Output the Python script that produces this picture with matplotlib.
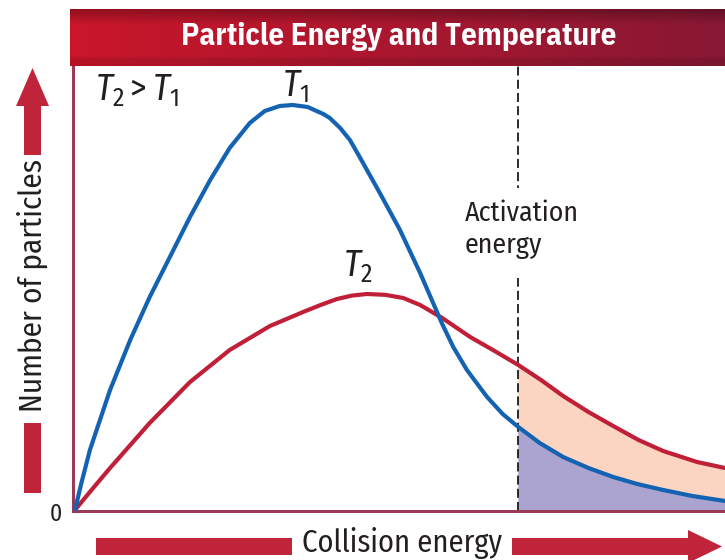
import numpy as np
import matplotlib
matplotlib.use("Agg")
import matplotlib.pyplot as plt
from matplotlib.patches import Rectangle, Polygon
from matplotlib import font_manager
from matplotlib.font_manager import FontProperties
from matplotlib.textpath import TextPath

# ---------------- data ----------------
title = "Particle Energy and Temperature"
x_label = "Collision energy"
y_label = "Number of particles"
activation_label = "Activation\nenergy"
activation_energy = 6.82

t1_energy = [0.0, 0.10, 0.23, 0.54, 0.85, 1.15, 1.46, 1.77, 2.08, 2.38, 2.69, 2.92,
             3.15, 3.35, 3.58, 3.82, 3.92, 4.08, 4.23, 4.38, 4.69, 5.00, 5.31, 5.65,
             5.82, 6.03, 6.34, 6.58, 6.82, 7.15, 7.51, 7.90, 8.28, 8.65, 9.05, 9.50, 10.0]
t1_count = [0.0, 6.8, 15.0, 30.0, 42.5, 53.25, 63.25, 73.25, 82.5, 90.5, 96.75, 99.75,
            101.0, 101.25, 100.75, 99.0, 98.0, 95.5, 92.5, 88.25, 79.25, 70.0, 59.25, 46.5,
            40.75, 35.0, 28.25, 24.0, 20.75, 16.75, 13.25, 10.5, 8.25, 6.5, 5.0, 3.5, 2.25]

t2_energy = [0.0, 0.27, 0.54, 1.15, 1.77, 2.38, 3.00, 3.51, 3.77, 4.03, 4.26, 4.49,
             4.77, 5.05, 5.31, 5.65, 6.08, 6.43, 6.82, 7.17, 7.51, 7.90, 8.28, 8.67,
             9.05, 9.57, 10.0]
t2_count = [0.0, 5.3, 10.5, 21.75, 32.0, 40.0, 46.0, 49.5, 51.2, 52.75, 53.6, 54.0,
            53.8, 53.0, 51.25, 48.0, 43.25, 40.0, 36.25, 32.5, 28.5, 24.5, 21.0, 17.5,
            14.75, 12.0, 10.5]

# ---------------- fonts: humanist condensed family closest to the reference proportions ----------------
ttf = font_manager.fontManager.ttflist
fams = {f.name for f in ttf}
humanist = ["PT Sans Narrow", "Fira Sans Condensed", "Asap Condensed", "Roboto Condensed",
            "Archivo Narrow", "IBM Plex Sans Condensed", "Open Sans Condensed"]
body_cands = [n for n in humanist if n in fams and any(f.name == n and f.weight in (400, "normal", "regular") for f in ttf)] or ["DejaVu Sans"]
bold_cands = [n for n in humanist if n in fams and any(f.name == n and f.weight in (700, "bold") for f in ttf)] or ["DejaVu Sans"]

def ratio(family, weight, s):
    fp = FontProperties(family=family, weight=weight)
    w = TextPath((0, 0), s, size=100, prop=fp).get_extents().width
    h = TextPath((0, 0), "H", size=100, prop=fp).get_extents().height
    return w / h

def choose(cands, weight, items):
    best, err = cands[0], 1e9
    for c in cands:
        try:
            e = sum(abs(np.log(ratio(c, weight, s) / r)) for s, r in items)
        except Exception:
            continue
        if e < err:
            best, err = c, e
    return best

body = choose(body_cands, "normal", [("Activation", 112 / 20), (x_label, 198 / 19), (y_label, 250 / 19)])
head = choose(bold_cands, "bold", [(title, 432 / 18)])
italic_f = "PT Sans" if (body == "PT Sans Narrow" and "PT Sans" in fams) else body

plt.rcParams["font.family"] = [body, "DejaVu Sans"]
plt.rcParams["mathtext.fontset"] = "custom"
plt.rcParams["mathtext.it"] = italic_f + ":italic"
plt.rcParams["mathtext.rm"] = body
plt.rcParams["mathtext.default"] = "it"
plt.rcParams["lines.scale_dashes"] = False

BLUE = "#1462b2"
RED = "#c01f38"
ARROW = "#c0243a"
SPINE = "#9b3a56"
LAV = "#aba4d0"
PEACH = "#fcd4c2"
TXT = "#231f20"

W, H = 725, 560
fig = plt.figure(figsize=(W / 100, H / 100), dpi=100)
fig.patch.set_facecolor("white")

# main axes
left_px, right_px, top_px, bot_px = 73, 725, 65, 511
ax = fig.add_axes([left_px / W, (H - bot_px) / H, (right_px - left_px) / W, (bot_px - top_px) / H], zorder=2)
ax.set_xlim(-0.03, 10.0)
ax.set_ylim(-0.25, 111.25)
ax.set_xticks([])
ax.set_yticks([])
for s in ["top", "right"]:
    ax.spines[s].set_visible(False)
for s in ["left", "bottom"]:
    ax.spines[s].set_color(SPINE)
    ax.spines[s].set_linewidth(2.2)

# overlay axes in pixel coordinates for decorations
deco = fig.add_axes([0, 0, 1, 1], zorder=5)
deco.set_xlim(0, W)
deco.set_ylim(H, 0)
deco.axis("off")
deco.patch.set_alpha(0)

# shaded tails beyond activation energy
t1x = np.array(t1_energy); t1y = np.array(t1_count)
t2x = np.array(t2_energy); t2y = np.array(t2_count)
m1 = t1x >= activation_energy
m2 = t2x >= activation_energy
ax.fill(np.r_[t2x[m2], t1x[m1][::-1]], np.r_[t2y[m2], t1y[m1][::-1]], color=PEACH, lw=0, zorder=1)
ax.fill(np.r_[t1x[m1], t1x[m1][-1], t1x[m1][0]], np.r_[t1y[m1], 0, 0], color=LAV, lw=0, zorder=1)

# activation line
ax.axvline(activation_energy, color="#1a1a1a", lw=1.3, dashes=(6.5, 3.0), zorder=2)

# curves
ax.plot(t2x, t2y, color=RED, lw=3.0, solid_capstyle="round", solid_joinstyle="round", zorder=3)
ax.plot(t1x, t1y, color=BLUE, lw=3.0, solid_capstyle="round", solid_joinstyle="round", zorder=4)

# banner with gradient
nx = 300
grad = np.zeros((20, nx, 3))
c_left = np.array([202, 22, 42]) / 255
c_right = np.array([136, 24, 52]) / 255
for i in range(nx):
    t = i / (nx - 1)
    grad[:, i, :] = c_left * (1 - t) + c_right * t
for j in range(20):
    f = 0.74 + 0.26 * min(1.0, j / 5.0)
    if j > 16:
        f = 0.9
    grad[j] *= f
deco.imshow(grad, extent=[70, 725, 66, 9], aspect="auto", interpolation="bilinear", zorder=1)

def px_size(family, weight, s, target_w):
    fp = FontProperties(family=family, weight=weight)
    w = TextPath((0, 0), s, size=100, prop=fp).get_extents().width
    return target_w / w * 100 * 0.72  # points at dpi 100

deco.text(399, 45, title, fontsize=px_size(head, "bold", title, 432), fontweight="bold",
          family=[head, "DejaVu Sans"], color="white", ha="center", va="baseline", zorder=2)

# gap in dashed line around the label
deco.add_patch(Rectangle((508, 188), 20, 90, color="white", lw=0, zorder=1))
act_fs = px_size(body, "normal", "Activation", 112)
lh = TextPath((0, 0), "lp", size=act_fs / 0.72, prop=FontProperties(family=body)).get_extents().ymax
deco.text(465, 253, activation_label, fontsize=act_fs, color=TXT, ha="left", va="baseline",
          linespacing=26.0 / lh, zorder=2)

t_rel = deco.text(95, 100, r"$T_2 > T_1$", fontsize=17, color=TXT, ha="left", va="baseline")
fig.canvas.draw()
bb = t_rel.get_window_extent(fig.canvas.get_renderer())
t_fs = 17 * 85 / bb.width
t_rel.set_fontsize(t_fs)
deco.text(282, 96, r"$T_1$", fontsize=t_fs, color=TXT, ha="left", va="baseline")
deco.text(343, 276, r"$T_2$", fontsize=t_fs, color=TXT, ha="left", va="baseline")

# y arrow
deco.add_patch(Rectangle((24, 105), 17, 50, color=ARROW, lw=0))
deco.add_patch(Polygon([[16, 106], [49, 106], [32.5, 68]], closed=True, color=ARROW, lw=0))
deco.add_patch(Rectangle((24, 423), 17, 70, color=ARROW, lw=0))
deco.text(32, 285, y_label, rotation=90, fontsize=px_size(body, "normal", y_label, 250),
          color=TXT, ha="center", va="center")

# x arrow
deco.add_patch(Rectangle((96, 538), 196, 17, color=ARROW, lw=0))
deco.add_patch(Rectangle((512, 538), 178, 17, color=ARROW, lw=0))
deco.add_patch(Polygon([[688, 530], [688, 563], [722, 546.5]], closed=True, color=ARROW, lw=0))
deco.text(402, 552, x_label, fontsize=px_size(body, "normal", x_label, 198), color=TXT,
          ha="center", va="baseline")

deco.text(55.5, 521, "0", fontsize=17, color=TXT, ha="center", va="baseline")

fig.savefig("out.png", dpi=100, facecolor="white")
